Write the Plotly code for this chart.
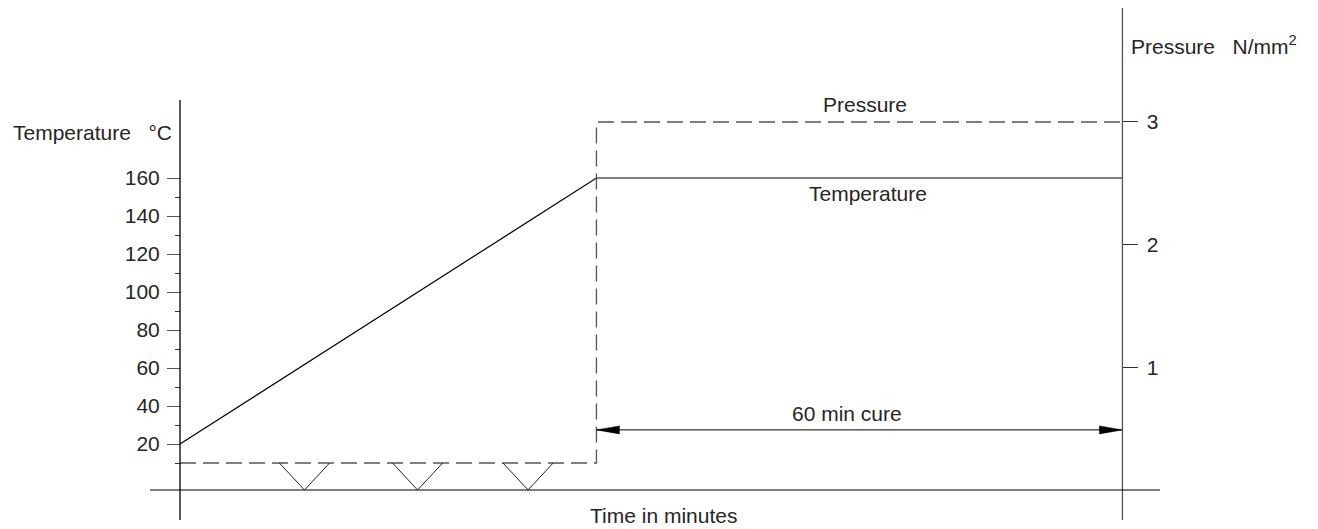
import plotly.graph_objects as go

# ---------------- data ----------------
temp_time = [0, 47.5, 107.5]      # minutes
temperature = [20, 160, 160]      # °C
press_time = [0, 47.5, 47.5, 107.5]  # minutes
pressure = [0.22, 0.22, 3, 3]     # N/mm²
vent_times = [14.2, 27.1, 39.7]   # pressure release "bumps"
vent_half_width = 2.86            # minutes
vent_pressure = 0.0
cure_start = 47.5
cure_end = 107.5
cure_arrow_p = 0.49
temp_ticks = [20, 40, 60, 80, 100, 120, 140, 160]
temp_minor = [10, 30, 50, 70, 90, 110, 130, 150]
press_ticks = [1, 2, 3]

# ---------------- geometry (pixel mapping) ----------------
W, H = 1318, 529
X0PX, XSCALE = 180, 8.767         # px of t=0, px per minute
T0PX, TSCALE = 482, 1.9           # px of 0 °C, px per °C
P0PX, PSCALE = 490, 122.67        # px of 0 N/mm², px per N/mm²

xr = [(0 - X0PX) / XSCALE, (W - X0PX) / XSCALE]
tr = [(T0PX - H) / TSCALE, T0PX / TSCALE]
pr = [(P0PX - H) / PSCALE, P0PX / PSCALE]

def px_t(px): return (px - X0PX) / XSCALE
def py_T(py): return (T0PX - py) / TSCALE
def py_p(py): return (P0PX - py) / PSCALE

TXT = "#262626"
FONT = "Liberation Sans, Arial, sans-serif"
FS = 21
NB = "\u00a0"

fig = go.Figure()

# temperature line
fig.add_trace(go.Scatter(x=temp_time, y=temperature, mode="lines",
                         line=dict(color="#000000", width=1.2), yaxis="y",
                         hoverinfo="skip", showlegend=False))
# pressure dashed line
fig.add_trace(go.Scatter(x=press_time, y=pressure, mode="lines",
                         line=dict(color="#555555", width=1.3, dash="16px,7px"), yaxis="y2",
                         hoverinfo="skip", showlegend=False))
# vent V shapes
vx, vy = [], []
for t in vent_times:
    vx += [t - vent_half_width, t, t + vent_half_width, None]
    vy += [pressure[0], vent_pressure, pressure[0], None]
fig.add_trace(go.Scatter(x=vx, y=vy, mode="lines",
                         line=dict(color="#222222", width=1), yaxis="y2",
                         hoverinfo="skip", showlegend=False))
# cure dimension arrow
fig.add_trace(go.Scatter(x=[cure_start, cure_end], y=[cure_arrow_p, cure_arrow_p], mode="lines",
                         line=dict(color="#000000", width=1), yaxis="y2",
                         hoverinfo="skip", showlegend=False))
hl = 23 / XSCALE
hh = 4 / PSCALE
for tip, base in [(cure_start, cure_start + hl), (cure_end, cure_end - hl)]:
    fig.add_trace(go.Scatter(x=[tip, base, base, tip], y=[cure_arrow_p, cure_arrow_p + hh, cure_arrow_p - hh, cure_arrow_p],
                             mode="lines", fill="toself", fillcolor="#000000",
                             line=dict(color="#000000", width=0.5), yaxis="y2",
                             hoverinfo="skip", showlegend=False))

# axis lines (drawn as shapes so their extent matches the drawing)
shapes = [
    dict(type="line", xref="x", yref="y", x0=0, x1=0, y0=py_T(520), y1=py_T(100),
         line=dict(color="#000000", width=1.3)),
    dict(type="line", xref="x", yref="y2", x0=cure_end, x1=cure_end, y0=py_p(520), y1=py_p(8),
         line=dict(color="#555555", width=1.3)),
    dict(type="line", xref="x", yref="y2", x0=px_t(150), x1=px_t(1160), y0=0, y1=0,
         line=dict(color="#000000", width=1)),
]

def ann(text, px, py, xanchor="center"):
    return dict(text=text, x=px / W, y=1 - py / H, xref="paper", yref="paper",
                xanchor=xanchor, yanchor="middle", showarrow=False,
                font=dict(family=FONT, size=FS, color=TXT))

annotations = [
    ann("Temperature" + NB * 3 + "°C", 174, 133, "right"),
    ann("Pressure" + NB * 3 + "N/mm<sup>2</sup>", 1129, 45, "left"),
    ann("Pressure", 865, 104),
    ann("Temperature", 868, 194),
    ann("60 min cure", 847, 413),
    ann("Time in minutes", 663, 515),
]

fig.update_layout(
    width=W, height=H,
    margin=dict(l=0, r=0, t=0, b=0, pad=0, autoexpand=False),
    paper_bgcolor="white", plot_bgcolor="white",
    font=dict(family=FONT, size=FS, color=TXT),
    hovermode=False,
    xaxis=dict(range=xr, visible=False, domain=[0, 1]),
    yaxis=dict(range=tr, anchor="free", position=X0PX / W, side="left",
               showgrid=False, zeroline=False, showline=False,
               tickmode="array", tickvals=temp_ticks, ticktext=[str(v) for v in temp_ticks],
               ticks="outside", ticklen=13, tickwidth=1, tickcolor="#555555",
               ticklabelstandoff=3,
               minor=dict(tickmode="array", tickvals=temp_minor, ticks="outside",
                          ticklen=5, tickwidth=1, tickcolor="#333333", showgrid=False),
               tickfont=dict(family=FONT, size=FS, color=TXT)),
    yaxis2=dict(range=pr, overlaying="y", anchor="free", position=(X0PX + XSCALE * cure_end) / W,
                side="right", showgrid=False, zeroline=False, showline=False,
                tickmode="array", tickvals=press_ticks, ticktext=[str(v) for v in press_ticks],
                ticks="outside", ticklen=15, tickwidth=1, tickcolor="#333333",
                ticklabelstandoff=4,
                tickfont=dict(family=FONT, size=FS, color=TXT)),
    shapes=shapes,
    annotations=annotations,
)

fig.write_html("out.html", config={"displayModeBar": False, "staticPlot": True},
               post_script="document.body.style.margin='0';document.body.style.overflow='hidden';")
